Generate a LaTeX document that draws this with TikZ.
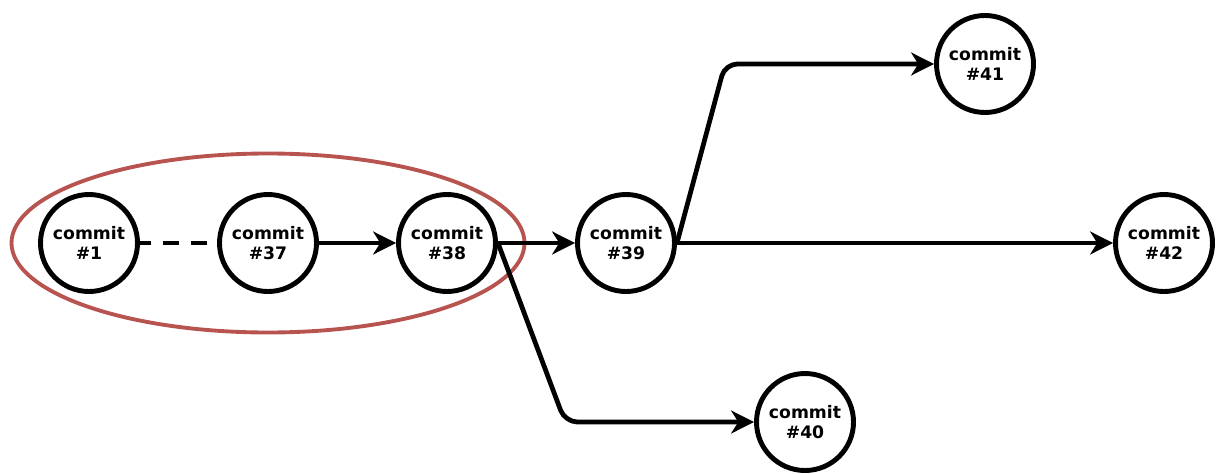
\documentclass[tikz,border=0pt]{standalone}
\usepackage{fontspec}
\setmainfont{DejaVu Sans}
\usetikzlibrary{automata}
\usetikzlibrary{arrows.meta}
\usetikzlibrary{positioning}
\usetikzlibrary{shapes.geometric}
\definecolor{squashred}{RGB}{184,84,80}

\begin{document}
\begin{tikzpicture}[line width=2.7pt]
        \tikzset{
          ->,
          >={Stealth[length=13pt,width=13pt,inset=4pt]},
          node distance=3.58cm,
          every state/.style={
            line width=2.8pt,
            inner sep = 0pt,
            minimum size = 1.94cm,
            align=center,
            font=\fontsize{9.8}{11.6}\selectfont\bfseries,
          },
        }
        \useasboundingbox (0,0) rectangle (24.34,9.46);
        \node[state] (q1) at (1.78,4.6) {commit\\\#1};
        \node[state, right of=q1] (q37) {commit\\\#37};
        \node[state, right of=q37] (q38) {commit\\\#38};
        \node[state, right of=q38] (q39) {commit\\\#39};
        \node[state, below right of=q39, node distance=5.063cm] (q40) {commit\\\#40};
        \node[state, right of=q39, node distance=10.76cm] (q42) {commit\\\#42};
        \node[state, above left of=q42, node distance=5.063cm] (q41) {commit\\\#41};
        \node[ellipse, draw=squashred, line width=2.2pt,
              minimum width=10.26cm, minimum height=3.58cm] (squash) at (q37) {};
        \coordinate[left of=q40, node distance=4.8cm] (c40);
        \coordinate[left of=q41, node distance=5.2cm] (c41);

        \draw[-, dash pattern=on 9pt off 7pt, dash phase=3pt] (q1) -- (q37);
        \draw
          (q37) edge (q38)
          (q38) edge (q39)
          (q39) edge (q42);
        \draw[rounded corners=7pt] (q38.east) -- (c40) -- (q40);
        \draw[rounded corners=7pt] (q39.east) -- (c41) -- (q41);
      \end{tikzpicture}
\end{document}
